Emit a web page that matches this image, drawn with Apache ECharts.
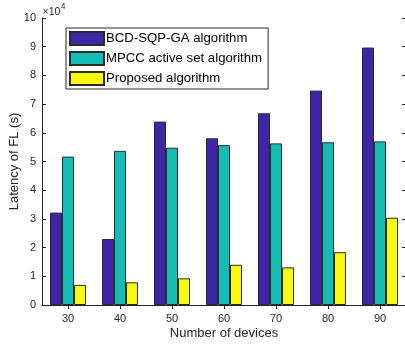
<!DOCTYPE html>
<html>
<head>
<meta charset="utf-8">
<script src="https://cdn.jsdelivr.net/npm/echarts@6/dist/echarts.min.js"></script>
<style>html,body{margin:0;padding:0;background:#fff;}#c{width:405px;height:346px;}</style>
</head>
<body>
<div id="c"></div>
<script>
const categories = ['30', '40', '50', '60', '70', '80', '90'];
const bcdSqpGa = [32200, 23000, 63900, 58100, 66800, 74700, 89700];
const mpccActiveSet = [51700, 53700, 54800, 55700, 56300, 56700, 57000];
const proposed = [7000, 7900, 9300, 14000, 13100, 18400, 30400];
const seriesNames = ['BCD-SQP-GA algorithm', 'MPCC active set algorithm', 'Proposed algorithm'];
const yTicks = [0, 1, 2, 3, 4, 5, 6, 7, 8, 9, 10];

const FONT = '"Liberation Sans", Arial, Helvetica, sans-serif';
const AX = '#262626';
const chart = echarts.init(document.getElementById('c'), null, {renderer: 'canvas'});
const barStyle = (c) => ({color: c, borderColor: '#2a2a2a', borderWidth: 1});
const colors = ['#3e26a8', '#14bdb6', '#f8f90f'];
const data = [bcdSqpGa, mpccActiveSet, proposed];

chart.setOption({
  animation: false,
  backgroundColor: '#fff',
  textStyle: {fontFamily: FONT},
  grid: {left: 42, top: 18, width: 364, height: 287, containLabel: false, outerBoundsMode: 'none'},
  legend: {
    orient: 'vertical', left: 66, top: 28, icon: 'rect',
    padding: [3, 6, 3, 3], itemGap: 5, itemWidth: 34, itemHeight: 13,
    borderColor: AX, borderWidth: 1, backgroundColor: '#fff', borderRadius: 0,
    textStyle: {fontSize: 13.2, color: '#000', fontFamily: FONT, padding: [0, 0, 0, -3]},
    data: seriesNames
  },
  xAxis: [{
    type: 'category', data: categories, position: 'bottom',
    name: 'Number of devices', nameLocation: 'middle', nameGap: 22, nameMoveOverlap: false,
    nameTextStyle: {fontSize: 13, color: AX, fontFamily: FONT},
    axisLine: {lineStyle: {color: AX, width: 1}},
    axisTick: {show: true, inside: true, alignWithLabel: true, length: 4, lineStyle: {color: AX}},
    axisLabel: {fontSize: 11, color: AX, margin: 8, fontFamily: FONT}
  }, {
    type: 'category', data: categories, position: 'top',
    axisLine: {lineStyle: {color: AX, width: 1}},
    axisTick: {show: true, inside: true, alignWithLabel: true, length: 4, lineStyle: {color: AX}},
    axisLabel: {show: false}
  }],
  yAxis: [{
    type: 'value', min: 0, max: 100000, interval: 10000, position: 'left',
    name: 'Latency of FL (s)', nameLocation: 'middle', nameGap: 21, nameMoveOverlap: false,
    nameTextStyle: {fontSize: 13, color: AX, fontFamily: FONT},
    axisLine: {show: true, lineStyle: {color: AX, width: 1}},
    axisTick: {show: true, inside: true, length: 4, lineStyle: {color: AX}},
    axisLabel: {fontSize: 11, color: AX, margin: 6, fontFamily: FONT,
      formatter: (v) => String(yTicks[Math.round(v / 10000)])},
    splitLine: {show: false}
  }, {
    type: 'value', min: 0, max: 100000, interval: 10000, position: 'right',
    axisLine: {show: true, lineStyle: {color: AX, width: 1}},
    axisTick: {show: true, inside: true, length: 4, lineStyle: {color: AX}},
    axisLabel: {show: false},
    splitLine: {show: false}
  }],
  graphic: [{
    type: 'text', x: 42.5, y: 12.5,
    style: {text: '×10', fontSize: 10.5, fontFamily: FONT, fill: AX, verticalAlign: 'middle', align: 'left'}
  }, {
    type: 'text', x: 60.8, y: 7,
    style: {text: '4', fontSize: 8.5, fontFamily: FONT, fill: AX, verticalAlign: 'middle', align: 'left'}
  }],
  series: data.map((d, i) => ({
    name: seriesNames[i], type: 'bar', data: d,
    barWidth: 12, barGap: '0%',
    itemStyle: barStyle(colors[i])
  }))
});
</script>
</body>
</html>
